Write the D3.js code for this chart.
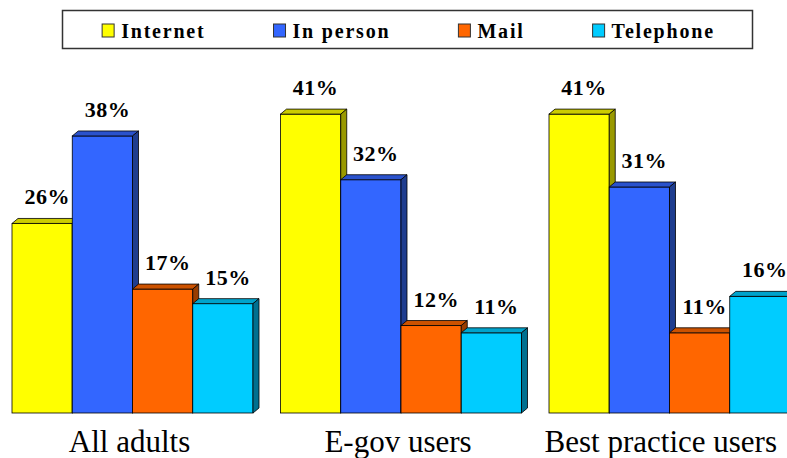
<!DOCTYPE html>
<html><head><meta charset="utf-8">
<script src="https://cdn.jsdelivr.net/npm/d3@7"></script>
<style>body{margin:0;background:#fff}</style>
</head><body><svg id="c" width="787" height="458"></svg>
<script>
const categories = ["All adults", "E-gov users", "Best practice users"];
const seriesNames = ["Internet", "In person", "Mail", "Telephone"];
const internet = [26, 41, 41];
const inPerson = [38, 32, 31];
const mail = [17, 12, 11];
const telephone = [15, 11, 16];
const frontColors = ["#ffff00", "#3366ff", "#ff6600", "#00ccff"];
const topColors = ["#cccc00", "#2a52cc", "#cc5200", "#00a3cc"];
const sideColors = ["#999900", "#1f3d8f", "#993d00", "#007090"];

const seriesValues = [internet, inPerson, mail, telephone];
const W = 787, H = 458;
const svg = d3.select("#c");
const serif = "Liberation Serif";
const dx = 6, dy = 5;

const x0 = d3.scaleBand().domain(categories).range([12, 790]).paddingInner(0.1024).paddingOuter(0);
const x1 = d3.scaleBand().domain(seriesNames).range([0, x0.bandwidth()]);
const y = d3.scaleLinear().domain([0, 50]).range([413, 48.5]);

const g = svg.append("g");
categories.forEach((cat, i) => {
  seriesNames.forEach((s, j) => {
    const v = seriesValues[j][i];
    const x = x0(cat) + x1(s), w = x1.bandwidth(), yt = y(v), yb = y(0);
    g.append("rect").attr("x", x).attr("y", yt).attr("width", w).attr("height", yb - yt)
      .attr("fill", frontColors[j]).attr("stroke", "#000").attr("stroke-width", 0.8);
    g.append("polygon").attr("points", [[x, yt], [x + dx, yt - dy], [x + w + dx, yt - dy], [x + w, yt]].join(" "))
      .attr("fill", topColors[j]).attr("stroke", "#000").attr("stroke-width", 0.8).attr("stroke-linejoin", "round");
    g.append("polygon").attr("points", [[x + w, yt], [x + w + dx, yt - dy], [x + w + dx, yb - dy], [x + w, yb]].join(" "))
      .attr("fill", sideColors[j]).attr("stroke", "#000").attr("stroke-width", 0.8).attr("stroke-linejoin", "round");
  });
  seriesNames.forEach((s, j) => {
    const v = seriesValues[j][i];
    const x = x0(cat) + x1(s), w = x1.bandwidth();
    g.append("text").attr("x", x + w / 2 + 5).attr("y", y(v) - 19)
      .attr("text-anchor", "middle").style("font-family", serif).style("font-weight", "bold")
      .style("font-size", "22px").style("letter-spacing", "0.5px").attr("fill", "#000").text(v + "%");
  });
});

// category labels
categories.forEach(cat => {
  const t = svg.append("text").attr("y", 452).style("font-family", serif).style("font-size", "31px")
    .attr("fill", "#000").attr("text-anchor", "middle").text(cat);
  let cx = x0(cat) + x0.bandwidth() / 2 - 3;
  const tw = t.node().getComputedTextLength();
  if (cx + tw / 2 > W - 10) cx = W - 10 - tw / 2;
  t.attr("x", cx);
});

// legend
const lg = svg.append("g");
lg.append("rect").attr("x", 62.5).attr("y", 10.5).attr("width", 690).attr("height", 38)
  .attr("fill", "#fff").attr("stroke", "#333").attr("stroke-width", 1.5);
const items = seriesNames.map((s, j) => {
  const it = lg.append("g");
  it.append("rect").attr("x", 0).attr("y", 24).attr("width", 12).attr("height", 13)
    .attr("fill", frontColors[j]).attr("stroke", "#333").attr("stroke-width", 1);
  const t = it.append("text").attr("x", 19).attr("y", 38).style("font-family", serif)
    .style("font-weight", "bold").style("font-size", "20px").style("letter-spacing", "1.8px").attr("fill", "#000").text(s);
  return { it, w: 19 + t.node().getComputedTextLength() };
});
const gap = 68;
const total = d3.sum(items, d => d.w) + gap * (items.length - 1);
let lx = 62.5 + 690 / 2 - total / 2 + 1;
items.forEach(d => { d.it.attr("transform", `translate(${lx},0)`); lx += d.w + gap; });
</script></body></html>
